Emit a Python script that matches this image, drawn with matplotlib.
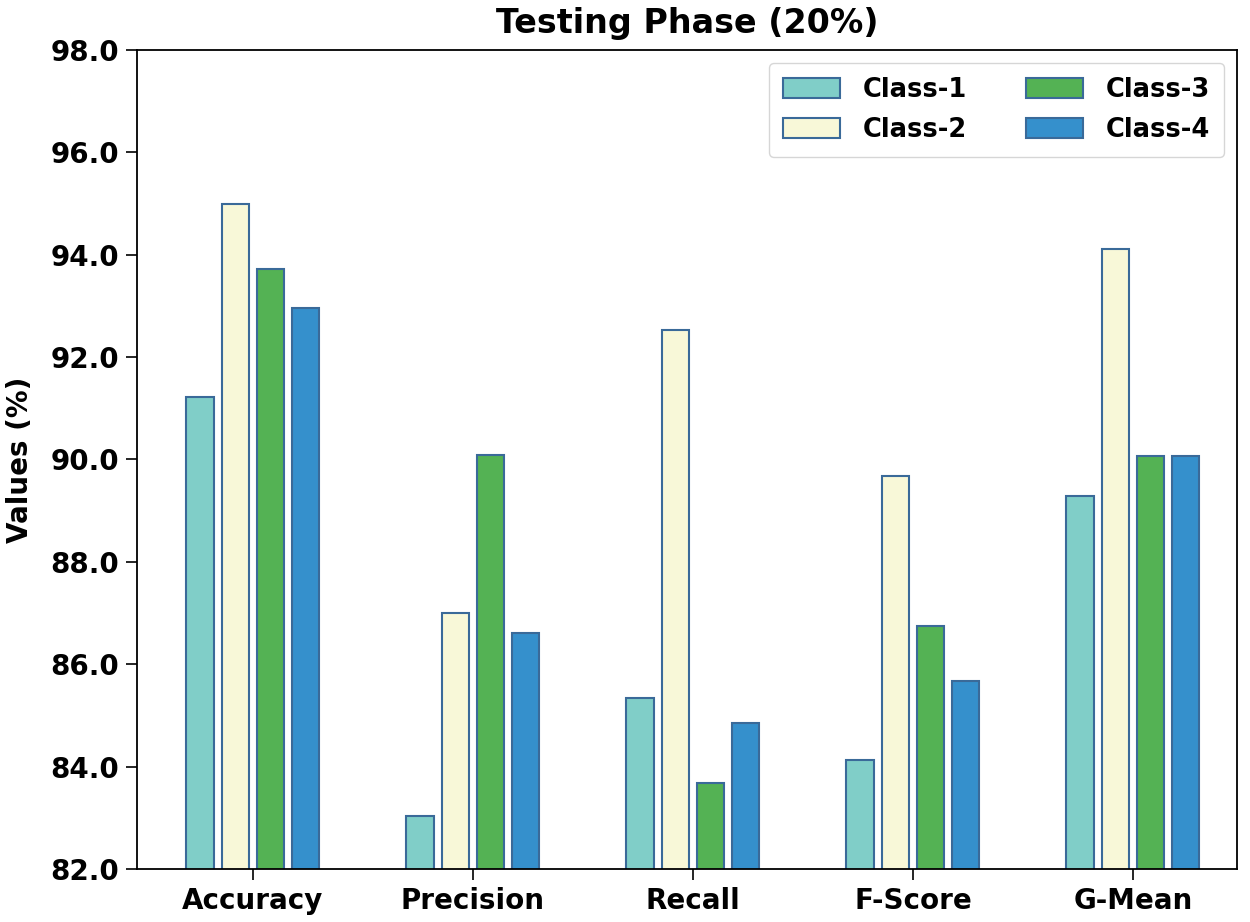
import matplotlib
matplotlib.use('Agg')
import matplotlib.pyplot as plt
import numpy as np
from matplotlib.ticker import FormatStrFormatter

metrics = ['Accuracy', 'Precision', 'Recall', 'F-Score', 'G-Mean']
class_names = ['Class-1', 'Class-2', 'Class-3', 'Class-4']

class1 = [91.22, 83.04, 85.34, 84.13, 89.29]
class2 = [95.00, 87.00, 92.53, 89.68, 94.11]
class3 = [93.72, 90.09, 83.68, 86.75, 90.07]
class4 = [92.96, 86.61, 84.85, 85.67, 90.07]

colors = ['#80cec8', '#f8f8d8', '#54b254', '#3590cc']

fig = plt.figure(figsize=(12.5, 9.22), dpi=100)
ax = fig.add_axes([0.1096, 0.0575, 0.88, 0.8883])

x = np.arange(len(metrics))
step = 0.16
width = 0.125
for i, (vals, name) in enumerate(zip([class1, class2, class3, class4], class_names)):
    ax.bar(x + (i - 1.5) * step, vals, width, color=colors[i], edgecolor='#3a6a99',
           linewidth=1.5, label=name)

ax.set_ylim(82, 98)
ax.set_xlim(-0.527, 4.473)
ax.set_yticks(np.arange(82, 98.1, 2))
ax.yaxis.set_major_formatter(FormatStrFormatter('%.1f'))
ax.set_xticks(x)
ax.set_xticklabels(metrics, fontsize=20, fontweight='bold')
for lab in ax.get_yticklabels():
    lab.set_fontsize(20)
    lab.set_fontweight('bold')
ax.tick_params(axis='both', length=8, width=1.2, pad=5)
ax.set_ylabel('Values (%)', fontsize=20, fontweight='bold', labelpad=12)
ax.set_title('Testing Phase (20%)', fontsize=24, fontweight='bold', pad=12)
for s in ax.spines.values():
    s.set_linewidth(1.3)

ax.legend(loc='upper right', ncol=2, prop={'size': 18.5, 'weight': 'bold'},
          handlelength=2.2, handleheight=0.8, columnspacing=2.3, handletextpad=0.9,
          labelspacing=0.55, borderpad=0.55)

plt.savefig('out.png', dpi=100)
